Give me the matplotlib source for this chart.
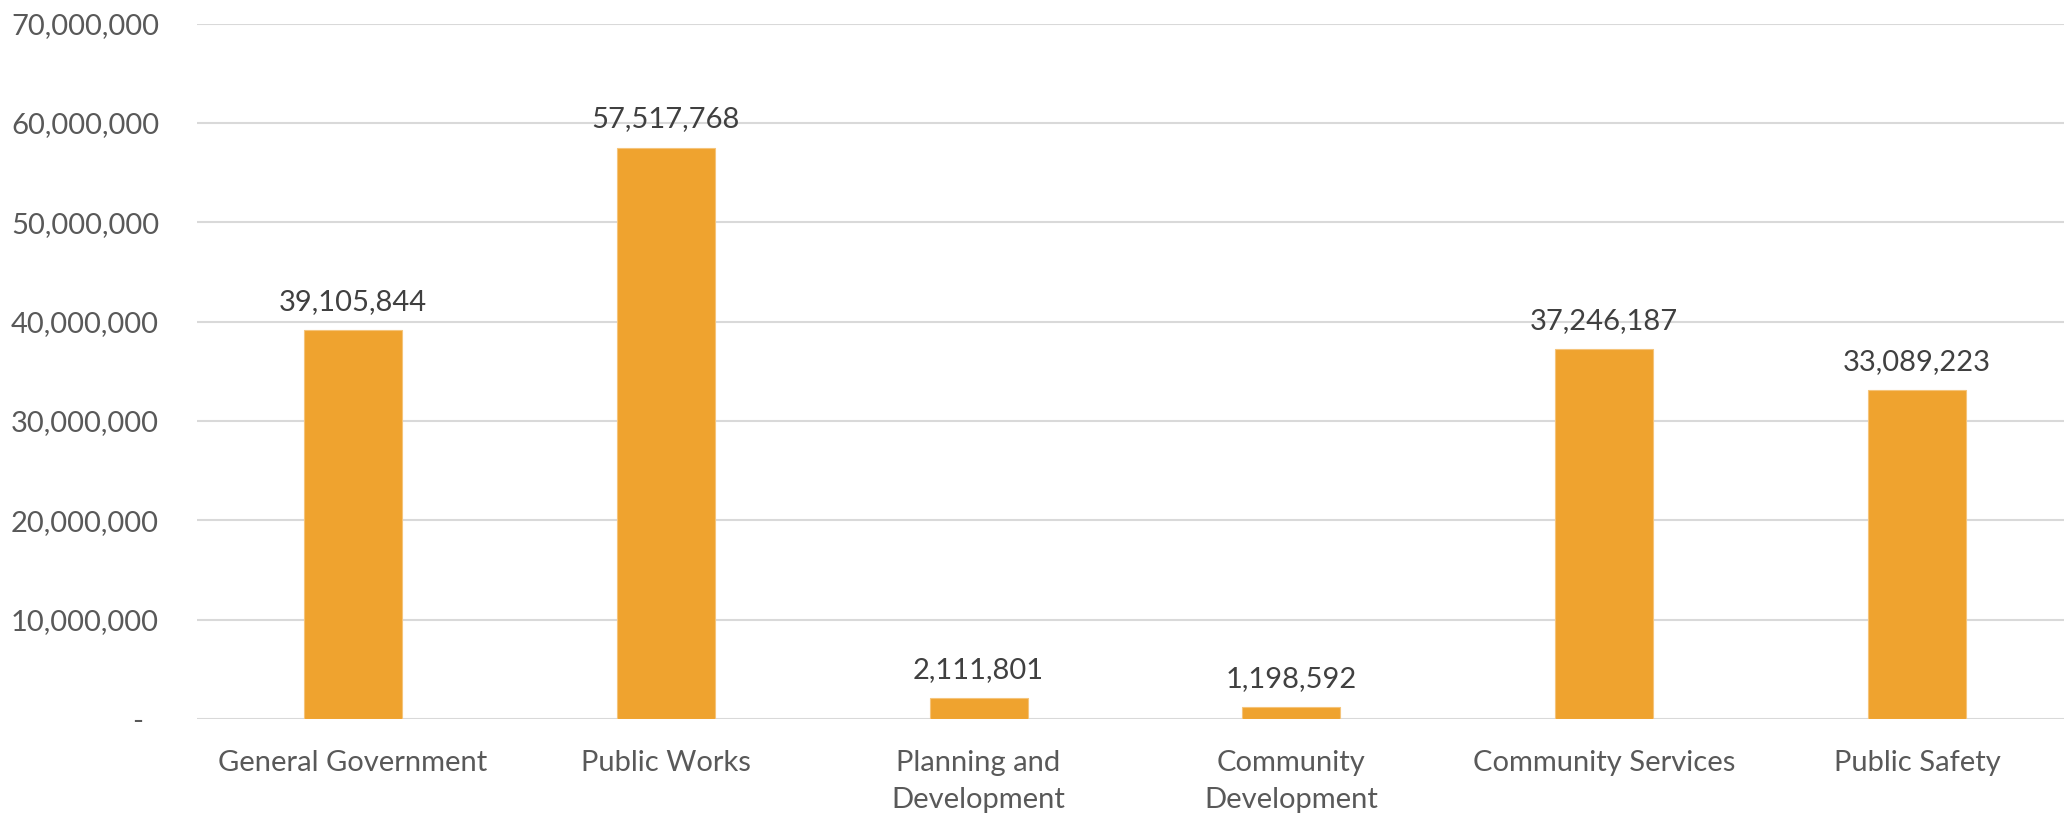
import matplotlib
matplotlib.use("Agg")
import matplotlib.pyplot as plt
from matplotlib.ticker import FuncFormatter, MultipleLocator

categories = ["General Government", "Public Works", "Planning and\nDevelopment",
              "Community\nDevelopment", "Community Services", "Public Safety"]
amounts = [39105844, 57517768, 2111801, 1198592, 37246187, 33089223]

BAR_COLOR = "#EFA32F"
GRID_COLOR = "#D9D9D9"
TICK_COLOR = "#595959"
LABEL_COLOR = "#404040"

plt.rcParams["font.family"] = ["Lato", "DejaVu Sans"]

fig = plt.figure(figsize=(20.64, 8.16), dpi=100)
ax = fig.add_axes([196.6 / 2064, (816 - 719) / 816, 1876.8 / 2064, 695.5 / 816])

x = range(len(categories))
bars = ax.bar(x, amounts, width=0.313, color=BAR_COLOR, edgecolor="#F5C47A",
              linewidth=0.8, zorder=3)

for b, v in zip(bars, amounts):
    ax.annotate(f"{v:,.0f}", (b.get_x() + b.get_width() / 2, v),
                xytext=(0, 11), textcoords="offset points",
                ha="center", va="bottom", fontsize=21, color=LABEL_COLOR)

ax.set_xlim(-0.5, len(categories) - 0.5)
ax.set_ylim(0, 70000000)
ax.yaxis.set_major_locator(MultipleLocator(10000000))
ax.yaxis.set_major_formatter(FuncFormatter(lambda v, p: "-  " if v == 0 else f"{v:,.0f}"))

ax.set_xticks(list(x))
ax.set_xticklabels(categories, linespacing=1.55)
ax.tick_params(axis="x", length=0, pad=22, labelsize=21, labelcolor=TICK_COLOR)
ax.tick_params(axis="y", length=0, pad=27, labelsize=21, labelcolor=TICK_COLOR)

ax.grid(axis="y", color=GRID_COLOR, linewidth=1.5, zorder=0)
for s in ax.spines.values():
    s.set_visible(False)

fig.savefig("out.png", dpi=100)
